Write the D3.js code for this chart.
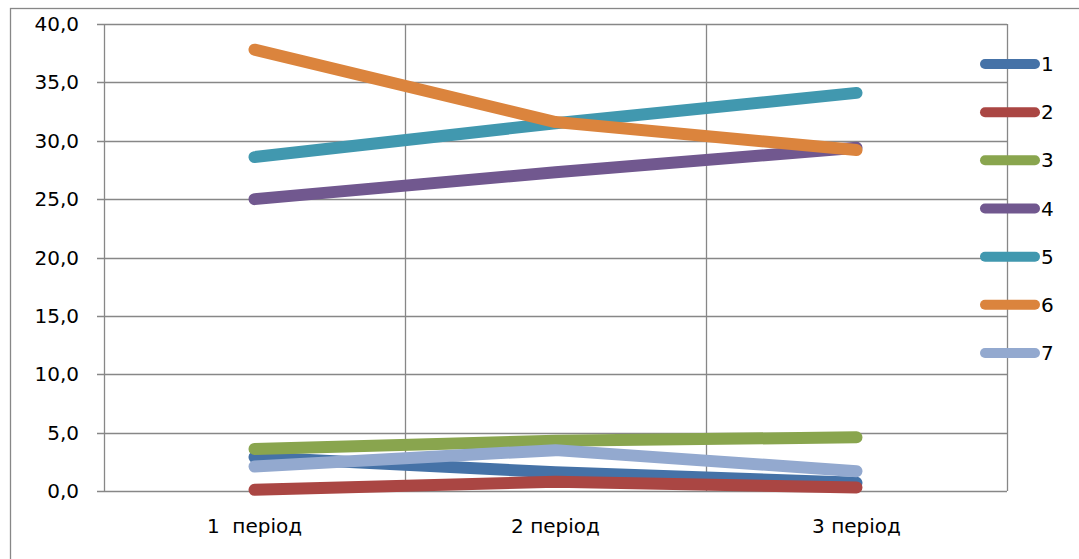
<!DOCTYPE html>
<html>
<head>
<meta charset="utf-8">
<script src="https://cdn.jsdelivr.net/npm/d3@7"></script>
<style>
  html, body { margin: 0; padding: 0; background: #fff; }
  svg { display: block; }
  text { font-family: "DejaVu Sans", sans-serif; fill: #000; }
</style>
</head>
<body>
<svg id="chart" width="1079" height="559"></svg>
<script>
// Periods on the horizontal axis
const categories = ["1  період", "2 період", "3 період"];
// Series names shown in the legend
const seriesNames = ["1", "2", "3", "4", "5", "6", "7"];
// Values per series, one per period
const s1 = [2.9, 1.6, 0.7];
const s2 = [0.1, 0.8, 0.3];
const s3 = [3.6, 4.3, 4.6];
const s4 = [25.0, 27.3, 29.4];
const s5 = [28.6, 31.5, 34.1];
const s6 = [37.8, 31.6, 29.2];
const s7 = [2.1, 3.5, 1.7];
const seriesValues = [s1, s2, s3, s4, s5, s6, s7];
const seriesColors = ["#4572A7", "#AA4643", "#89A54E", "#71588F", "#4198AF", "#DB843D", "#93A9CF"];
const yTicks = [0, 5, 10, 15, 20, 25, 30, 35, 40];

const svg = d3.select("#chart");
const W = 1079, H = 559;
const plot = { left: 104, right: 1007, top: 24, bottom: 491 };
const gridColor = "#878787";

// Outer chart frame
svg.append("rect")
  .attr("x", 10.5).attr("y", 8.5)
  .attr("width", W + 20).attr("height", H + 20)
  .attr("fill", "none").attr("stroke", gridColor).attr("stroke-width", 1.3);

const x = d3.scaleBand().domain(categories).range([plot.left, plot.right]).padding(0);
const y = d3.scaleLinear().domain([0, 40]).range([plot.bottom, plot.top]);
const fmt = v => d3.format(".1f")(v).replace(".", ",");

// Horizontal gridlines with left tick stubs
const g = svg.append("g");
g.selectAll("line.h").data(yTicks).join("line")
  .attr("x1", plot.left - 7).attr("x2", plot.right)
  .attr("y1", d => Math.round(y(d)) + 0.5).attr("y2", d => Math.round(y(d)) + 0.5)
  .attr("stroke", gridColor).attr("stroke-width", 1.3);

// Vertical gridlines at category boundaries, plus the value axis
const bounds = categories.map(c => x(c) + x.bandwidth());
g.selectAll("line.v").data([plot.left, ...bounds]).join("line")
  .attr("x1", d => Math.round(d) + 0.5).attr("x2", d => Math.round(d) + 0.5)
  .attr("y1", plot.top).attr("y2", plot.bottom)
  .attr("stroke", gridColor).attr("stroke-width", 1.3);

// Y tick labels
svg.append("g").selectAll("text").data(yTicks).join("text")
  .attr("x", 79).attr("y", d => y(d))
  .attr("text-anchor", "end").attr("dominant-baseline", "central")
  .style("font-size", "20px")
  .text(fmt);

// X category labels
svg.append("g").selectAll("text").data(categories).join("text")
  .attr("x", d => x(d) + x.bandwidth() / 2).attr("y", 526)
  .attr("text-anchor", "middle").attr("dominant-baseline", "central")
  .style("font-size", "20px").style("white-space", "pre")
  .attr("xml:space", "preserve")
  .text(d => d);

// Series lines
const line = d3.line()
  .x((d, i) => x(categories[i]) + x.bandwidth() / 2)
  .y(d => y(d));
svg.append("g").selectAll("path").data(seriesValues).join("path")
  .attr("d", line)
  .attr("fill", "none")
  .attr("stroke", (d, i) => seriesColors[i])
  .attr("stroke-width", 12)
  .attr("stroke-linecap", "round")
  .attr("stroke-linejoin", "round");

// Legend
const legend = svg.append("g");
const ly = d3.scaleLinear().domain([0, 6]).range([64, 353]);
const items = legend.selectAll("g").data(seriesNames).join("g")
  .attr("transform", (d, i) => `translate(0,${ly(i)})`);
items.append("line")
  .attr("x1", 985).attr("x2", 1035).attr("y1", 0).attr("y2", 0)
  .attr("stroke", (d, i) => seriesColors[i])
  .attr("stroke-width", 10).attr("stroke-linecap", "round");
items.append("text")
  .attr("x", 1041).attr("y", 0)
  .attr("dominant-baseline", "central")
  .style("font-size", "20px")
  .text(d => d);
</script>
</body>
</html>
